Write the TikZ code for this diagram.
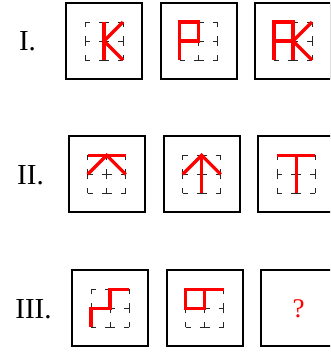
\documentclass[tikz,border=0pt]{standalone}
\usepackage{fontspec}
\setmainfont{Liberation Serif}
\tikzset{
  box/.style={draw=black, line width=1.8pt, minimum size=76pt, inner sep=0pt},
  gridline/.style={draw=black!85, line width=1pt, dash pattern=on 5pt off 9pt},
  redline/.style={draw=red, line width=3.2pt, line join=miter},
  rowlabel/.style={font=\fontsize{29}{31}\selectfont, inner sep=0pt},
}
\newcommand{\dgrid}{%
  \foreach \a in {-1,0,1}{
    \foreach \b in {-1,0}{
      \draw[gridline] (\a,\b) -- (\a,\b+1);
      \draw[gridline] (\b,\a) -- (\b+1,\a);
    }
  }%
}
\begin{document}
\begin{tikzpicture}[x=1pt,y=-1pt]
\useasboundingbox (0,0) rectangle (330,354);
\clip (0,0) rectangle (330,354);
\fill[white] (0,0) rectangle (330,354);

\node[rowlabel] (l1) at (27.5,41) {I.};
\node[rowlabel] (l2) at (30.5,175) {II.};
\node[rowlabel] (l3) at (33.5,309.5) {III.};

\node[box] (b11) at (104,41) {};
\node[box] (b12) at (198.7,41) {};
\node[box] (b13) at (293,41) {};
\node[box] (b21) at (106.7,174.3) {};
\node[box] (b22) at (201.7,174.3) {};
\node[box] (b23) at (296.3,174.3) {};
\node[box] (b31) at (110,308.3) {};
\node[box] (b32) at (204.7,308.3) {};
\node[box] (b33) at (298.7,308.3) {};

% Row I
\begin{scope}[shift={(b11.center)}, x=19pt, y=19pt]
  \dgrid
  \draw[redline] (0,1) -- (0,-1);
  \draw[redline] (1,1) -- (0,0) -- (1,-1);
\end{scope}
\begin{scope}[shift={(b12.center)}, x=19pt, y=19pt]
  \dgrid
  \draw[redline] (-1,-1) -- (-1,1) -- (0,1) -- (0,0) -- (-1,0);
\end{scope}
\begin{scope}[shift={(b13.center)}, x=19pt, y=19pt]
  \dgrid
  \draw[redline] (-1,-1) -- (-1,1) -- (0,1) -- (0,0) -- (-1,0);
  \draw[redline] (0,1) -- (0,-1);
  \draw[redline] (1,1) -- (0,0) -- (1,-1);
\end{scope}

% Row II
\begin{scope}[shift={(b21.center)}, x=19pt, y=19pt]
  \dgrid
  \draw[redline] (-1,1) -- (1,1);
  \draw[redline] (-1,0) -- (0,1) -- (1,0);
\end{scope}
\begin{scope}[shift={(b22.center)}, x=19pt, y=19pt]
  \dgrid
  \draw[redline] (-1,0) -- (0,1) -- (1,0);
  \draw[redline] (0,1) -- (0,-1);
\end{scope}
\begin{scope}[shift={(b23.center)}, x=19pt, y=19pt]
  \dgrid
  \draw[redline] (-1,1) -- (1,1);
  \draw[redline] (0,1) -- (0,-1);
\end{scope}

% Row III
\begin{scope}[shift={(b31.center)}, x=19pt, y=19pt]
  \dgrid
  \draw[redline] (1,1) -- (0,1) -- (0,0) -- (-1,0) -- (-1,-1);
\end{scope}
\begin{scope}[shift={(b32.center)}, x=19pt, y=19pt]
  \dgrid
  \draw[redline] (1,1) -- (-1,1) -- (-1,0) -- (0,0) -- (0,1);
\end{scope}
\node[text=red, font=\fontsize{27}{29}\selectfont, inner sep=0pt] (q) at (b33.center) {?};
\end{tikzpicture}
\end{document}
